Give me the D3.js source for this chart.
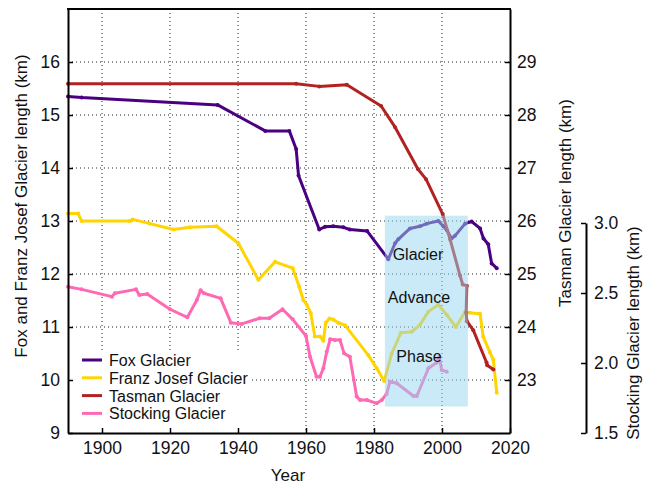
<!DOCTYPE html>
<html>
<head>
	<title>Glacier length</title>
	<script src="https://d3js.org/d3.v7.min.js"></script>
	<style type="text/css">
		body { margin: 0; background: #fff; }
		text { font-family: "Liberation Sans", Arial, Helvetica, sans-serif; fill: #111; }
		.grid line { stroke: #222; stroke-width: 1; stroke-dasharray: 1,3; }
		.glacier { fill: none; stroke-width: 3; stroke-linejoin: round; }
	</style>
</head>
<body>
<div id="visualization"></div>
<script type="text/javascript">
var svg_width = 649;
var svg_height = 485;

// values
var fox_years = [1890, 1894, 1934, 1948, 1955.1, 1957.1, 1957.8, 1963.9, 1965.6, 1968, 1971, 1972.9, 1978, 1984.2, 1986.2, 1987.2, 1990.6, 1993.5, 1995.5, 1998.9, 2000.4, 2001.4, 2002.8, 2003.8, 2006.8, 2008.7, 2011.2, 2012.2, 2013.6, 2014.6, 2016.1];
var fox_km = [15.35, 15.33, 15.19, 14.70, 14.70, 14.36, 13.86, 12.84, 12.89, 12.90, 12.88, 12.84, 12.81, 12.28, 12.58, 12.66, 12.86, 12.90, 12.95, 13.00, 12.90, 12.83, 12.67, 12.72, 12.95, 12.99, 12.86, 12.67, 12.56, 12.20, 12.11];

var franz_years = [1890, 1893, 1894, 1908.2, 1909, 1914.1, 1921, 1925.9, 1933.7, 1940.1, 1946, 1950.9, 1956.1, 1958, 1959.2, 1960.2, 1961.4, 1962.6, 1964.1, 1965.1, 1965.8, 1966.9, 1968, 1969.5, 1971.5, 1978.3, 1980.8, 1983, 1985.2, 1987.9, 1991.1, 1993.5, 1996, 1998.9, 2001.4, 2004.1, 2006.8, 2008.2, 2011.2, 2012.1, 2014.1, 2015.1, 2016.1];
var franz_km = [13.14, 13.14, 13.0, 13.0, 13.03, 12.95, 12.84, 12.88, 12.90, 12.58, 11.89, 12.23, 12.11, 11.76, 11.51, 11.42, 11.26, 10.82, 10.82, 10.74, 11.08, 11.16, 11.14, 11.08, 11.03, 10.47, 10.22, 9.98, 10.50, 10.89, 10.91, 11.04, 11.29, 11.42, 11.23, 11.00, 11.29, 11.27, 11.25, 10.82, 10.52, 10.38, 9.76];

var tasman_years = [1890, 1957.1, 1963.9, 1972, 1982.1, 1986.2, 1992.9, 1995.3, 2000.2, 2002.4, 2005.3, 2006.1, 2007.3, 2007.1, 2007.3, 2009.2, 2013.1, 2013.3, 2015.1];
var tasman_km = [28.59, 28.59, 28.54, 28.57, 28.17, 27.77, 26.98, 26.79, 26.13, 25.65, 24.97, 24.80, 24.78, 24.27, 24.11, 23.94, 23.33, 23.28, 23.20];

var stocking_years = [1890, 1894, 1902.9, 1903.8, 1910, 1911, 1913.3, 1920, 1925.1, 1927.9, 1929, 1930, 1934.9, 1937.9, 1941.1, 1946.3, 1949.2, 1953.1, 1956.1, 1960, 1961.2, 1963.1, 1964.1, 1965.1, 1966.1, 1967.1, 1968.5, 1970, 1971.2, 1972.9, 1974.9, 1975.9, 1977.9, 1980.8, 1982.3, 1983.7, 1984.7, 1986.7, 1991.6, 1992.6, 1996, 1998.4, 1999.2, 1999.9, 2001.4];
var stocking_km = [2.545, 2.526, 2.474, 2.498, 2.526, 2.486, 2.493, 2.384, 2.326, 2.45, 2.52, 2.498, 2.462, 2.288, 2.279, 2.319, 2.319, 2.384, 2.312, 2.193, 2.045, 1.902, 1.902, 1.962, 2.08, 2.169, 2.164, 2.164, 2.069, 2.045, 1.76, 1.736, 1.736, 1.712, 1.736, 1.779, 1.866, 1.855, 1.764, 1.764, 1.962, 2.002, 2.045, 1.95, 1.938];

var year_ticks = [1900, 1920, 1940, 1960, 1980, 2000, 2020];
var left_ticks = [9, 10, 11, 12, 13, 14, 15, 16];
var tasman_ticks = [23, 24, 25, 26, 27, 28, 29];
var stocking_ticks = [1.5, 2.0, 2.5, 3.0];

var advance_years = [1983.2, 2007.6];
var advance_km = [9.5, 13.1];
var advance_words = ["Glacier", "Advance", "Phase"];

var series = [
	{name: "Fox Glacier", color: "#4b0082", years: fox_years, km: fox_km, axis: "left"},
	{name: "Franz Josef Glacier", color: "#ffd400", years: franz_years, km: franz_km, axis: "left"},
	{name: "Tasman Glacier", color: "#b22222", years: tasman_years, km: tasman_km, axis: "tasman"},
	{name: "Stocking Glacier", color: "#ff69b4", years: stocking_years, km: stocking_km, axis: "stocking"}
];

var plot_l = 68, plot_r = 510, plot_t = 9, plot_b = 433;

var x = d3.scaleLinear().domain([1890, 2020]).range([plot_l, plot_r]);
var y = d3.scaleLinear().domain([9, 17]).range([plot_b, plot_t]);
var yTasman = d3.scaleLinear().domain([22, 30]).range([plot_b, plot_t]);
var yStocking = d3.scaleLinear().domain([1.5, 3.0]).range([plot_b, 223]);
var scales = {left: y, tasman: yTasman, stocking: yStocking};

var svg = d3.select("#visualization")
	.append("svg")
	.attr("width", svg_width)
	.attr("height", svg_height);

// dotted grid
var grid = svg.append("g").attr("class", "grid");
grid.selectAll(".vg")
	.data(year_ticks.filter(function(d) { return d < 2020; }))
	.enter().append("line")
	.attr("x1", function(d) { return x(d); })
	.attr("x2", function(d) { return x(d); })
	.attr("y1", plot_t)
	.attr("y2", plot_b);
grid.selectAll(".hg")
	.data(left_ticks.filter(function(d) { return d > 9; }))
	.enter().append("line")
	.attr("x1", plot_l)
	.attr("x2", plot_r)
	.attr("y1", function(d) { return y(d); })
	.attr("y2", function(d) { return y(d); });

// glacier lines
series.forEach(function(s) {
	var ys = scales[s.axis];
	var pts = s.years.map(function(yr, i) { return [yr, s.km[i]]; });
	var line = d3.line()
		.x(function(d) { return x(d[0]); })
		.y(function(d) { return ys(d[1]); });
	svg.append("path")
		.datum(pts)
		.attr("class", "glacier")
		.attr("stroke", s.color)
		.attr("d", line);
	svg.append("g").selectAll("circle")
		.data(pts)
		.enter().append("circle")
		.attr("cx", function(d) { return x(d[0]); })
		.attr("cy", function(d) { return ys(d[1]); })
		.attr("r", 2)
		.attr("fill", s.color);
});

// advance phase box
svg.append("rect")
	.attr("x", x(advance_years[0]))
	.attr("y", y(advance_km[1]))
	.attr("width", x(advance_years[1]) - x(advance_years[0]))
	.attr("height", y(advance_km[0]) - y(advance_km[1]))
	.attr("fill", "rgb(150,214,242)")
	.attr("opacity", 0.5);
var word_y = [260, 303, 362];
svg.selectAll(".adv")
	.data(advance_words)
	.enter().append("text")
	.attr("x", function(d, i) { return i == 0 ? 418 : 419; })
	.attr("y", function(d, i) { return word_y[i]; })
	.attr("text-anchor", "middle")
	.style("font-size", "16px")
	.text(function(d) { return d; });

// legend
var legend = svg.append("g");
legend.append("rect")
	.attr("x", plot_l + 1).attr("y", 350)
	.attr("width", 182).attr("height", plot_b - 351)
	.attr("fill", "#fff");
var rows = legend.selectAll(".row")
	.data(series)
	.enter().append("g")
	.attr("transform", function(d, i) { return "translate(0," + (361 + i * 17.8) + ")"; });
rows.append("line")
	.attr("x1", 82).attr("x2", 102)
	.attr("y1", -1).attr("y2", -1)
	.attr("stroke", function(d) { return d.color; })
	.attr("stroke-width", 3);
rows.append("text")
	.attr("x", 109)
	.attr("y", 5)
	.style("font-size", "16px")
	.text(function(d) { return d.name; });

// axes
var fmt = d3.format("d");
svg.append("g")
	.attr("transform", "translate(0," + plot_b + ")")
	.call(d3.axisBottom(x).tickValues(year_ticks).tickFormat(fmt).tickSizeInner(-5).tickSizeOuter(0).tickPadding(9))
	.call(styleAxis);
svg.append("g")
	.attr("transform", "translate(" + plot_l + ",0)")
	.call(d3.axisLeft(y).tickValues(left_ticks).tickFormat(fmt).tickSizeInner(-5).tickSizeOuter(0).tickPadding(8))
	.call(styleAxis);
svg.append("g")
	.attr("transform", "translate(" + plot_r + ",0)")
	.call(d3.axisRight(yTasman).tickValues(tasman_ticks).tickFormat(fmt).tickSizeInner(-5).tickSizeOuter(0).tickPadding(7))
	.call(styleAxis);
svg.append("g")
	.attr("transform", "translate(586,0)")
	.call(d3.axisRight(yStocking).tickValues(stocking_ticks).tickFormat(d3.format(".1f")).tickSizeInner(-5).tickSizeOuter(0).tickPadding(8))
	.call(styleAxis);
// top edge of the frame
svg.append("line")
	.attr("x1", plot_l - 1).attr("x2", plot_r + 1)
	.attr("y1", plot_t).attr("y2", plot_t)
	.attr("stroke", "#000").attr("stroke-width", 2);

function styleAxis(g) {
	g.select(".domain").attr("stroke", "#000").attr("stroke-width", 2);
	g.selectAll(".tick line").attr("stroke", "#000").attr("stroke-width", 1.5);
	g.selectAll(".tick text").style("font-size", "17.5px").attr("fill", "#111");
}

// axis titles
svg.append("text")
	.attr("x", 288).attr("y", 481)
	.attr("text-anchor", "middle")
	.style("font-size", "17px")
	.text("Year");
svg.append("text")
	.attr("transform", "translate(27,206) rotate(-90)")
	.attr("text-anchor", "middle")
	.style("font-size", "17px")
	.text("Fox and Franz Josef Glacier length (km)");
svg.append("text")
	.attr("transform", "translate(571,203) rotate(-90)")
	.attr("text-anchor", "middle")
	.style("font-size", "17px")
	.text("Tasman Glacier length (km)");
svg.append("text")
	.attr("transform", "translate(639,333) rotate(-90)")
	.attr("text-anchor", "middle")
	.style("font-size", "17px")
	.text("Stocking Glacier length (km)");
</script>
</body>
</html>
